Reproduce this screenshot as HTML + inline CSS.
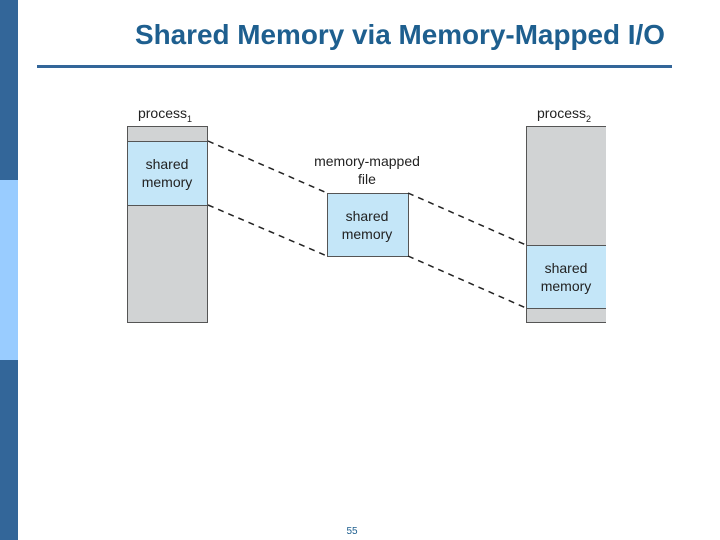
<!DOCTYPE html>
<html><head><style>
body{margin:0;width:720px;height:540px;position:relative;background:#fff;overflow:hidden;font-family:"Liberation Sans",sans-serif}
</style></head><body>
<div style="position:absolute;left:0;top:0;width:18px;height:180px;background:#336699"></div>
<div style="position:absolute;left:0;top:180px;width:18px;height:180px;background:#99ccff"></div>
<div style="position:absolute;left:0;top:360px;width:18px;height:180px;background:#336699"></div>
<div style="position:absolute;left:37px;top:65px;width:635px;height:3px;background:#336699"></div>
<svg width="720" height="540" style="position:absolute;left:0;top:0" font-family="Liberation Sans, sans-serif">
<text x="400" y="44" text-anchor="middle" font-size="28" font-weight="bold" fill="#1e5f8f" textLength="530" lengthAdjust="spacingAndGlyphs">Shared Memory via Memory-Mapped I/O</text>
<g stroke="#555" stroke-width="1">
<rect x="127.5" y="126.5" width="80" height="196" fill="#d1d3d4"/>
<rect x="127.5" y="141.5" width="80" height="64" fill="#c4e6f8"/>
<rect x="327.5" y="193.5" width="81" height="63" fill="#c4e6f8"/>
<rect x="526.5" y="126.5" width="80" height="196" fill="#d1d3d4"/>
<rect x="526.5" y="245.5" width="80" height="63" fill="#c4e6f8"/>
</g>
<rect x="606" y="120" width="10" height="210" fill="#fff"/>
<g stroke="#222" stroke-width="1.5" stroke-dasharray="6,5" fill="none">
<line x1="208" y1="141" x2="327" y2="193"/>
<line x1="208" y1="205" x2="327" y2="256"/>
<line x1="408" y1="193" x2="526" y2="245"/>
<line x1="408" y1="256" x2="526" y2="308"/>
</g>
<g font-size="14" fill="#222" text-anchor="middle">
<text x="165" y="118">process<tspan font-size="9" dy="4">1</tspan></text>
<text x="564" y="118">process<tspan font-size="9" dy="4">2</tspan></text>
<text x="167" y="169">shared</text><text x="167" y="187">memory</text>
<text x="367" y="221">shared</text><text x="367" y="239">memory</text>
<text x="566" y="273">shared</text><text x="566" y="291">memory</text>
<text x="367" y="166">memory-mapped</text><text x="367" y="184">file</text>
</g>
<text x="352" y="534" font-size="10" fill="#1e5f8f" text-anchor="middle">55</text>
</svg>
</body></html>
